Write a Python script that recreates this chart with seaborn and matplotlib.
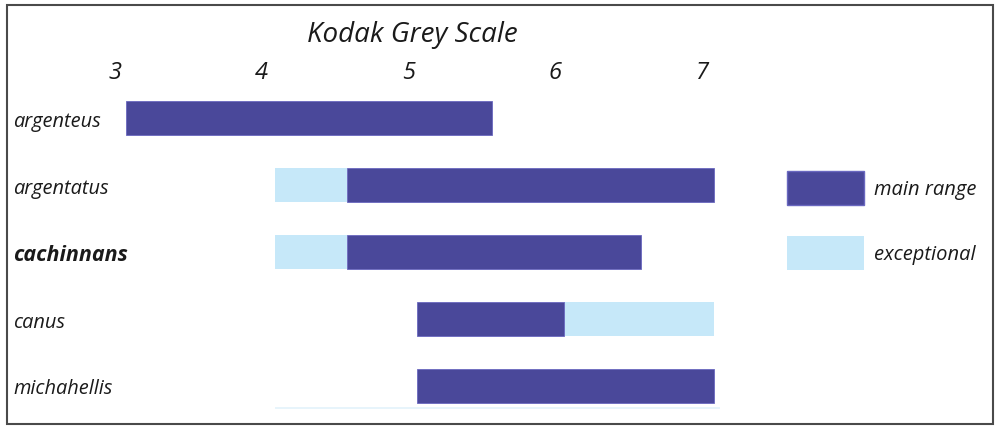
import numpy as np
import pandas as pd
import matplotlib
matplotlib.use("Agg")
import matplotlib.pyplot as plt
import seaborn as sns
from matplotlib.patches import Patch, Rectangle

# =========================
# Data
# =========================
species = ["argenteus", "argentatus", "cachinnans", "canus", "michahellis"]
main_start = [3.08, 4.58, 4.58, 5.06, 5.06]
main_end = [5.57, 7.08, 6.58, 6.06, 7.08]

exc_species = ["argentatus", "cachinnans", "canus"]
exc_start = [4.09, 4.09, 6.06]
exc_end = [4.58, 4.58, 7.08]

scale_ticks = [3, 4, 5, 6, 7]

dark = "#4a489a"
light = "#c6e8f9"
ink = "#1a1a1a"

main_df = pd.DataFrame({"species": species, "start": main_start, "end": main_end})
exc_df = pd.DataFrame({"species": exc_species, "start": exc_start, "end": exc_end})

# =========================
# Plot
# =========================
sns.set_theme(style="white")
plt.rcParams["font.family"] = ["Open Sans", "DejaVu Sans"]
plt.rcParams["text.color"] = ink
plt.rcParams["xtick.color"] = ink
plt.rcParams["ytick.color"] = ink

fig = plt.figure(figsize=(10, 4.31), dpi=100)
ax = fig.add_axes([0.041, 0.051, 0.735, 0.765])

ypos = {s: i for i, s in enumerate(species)}

ax.barh([ypos[s] for s in exc_df["species"]], exc_df["end"] - exc_df["start"],
        left=exc_df["start"], height=0.51, color=light, edgecolor="none")
ax.barh([ypos[s] for s in main_df["species"]], main_df["end"] - main_df["start"],
        left=main_df["start"], height=0.51, color=dark, edgecolor="#6a68c0",
        linewidth=0.6)

# faint base line under the bars
ax.hlines(4.33, 4.09, 7.12, color="#e3f2fb", linewidth=1.2, clip_on=False)

ax.set_xlim(2.5, 7.5)
ax.set_ylim(4.33, -0.6)

ax.xaxis.tick_top()
ax.set_xticks(scale_ticks)
ax.set_xticklabels([str(t) for t in scale_ticks], fontsize=17, style="italic")
ax.tick_params(axis="x", length=0, pad=-4)

ax.set_yticks(range(len(species)))
ax.set_yticklabels(species, fontsize=14.4, style="italic")
ax.tick_params(axis="y", length=0, pad=20)
for lbl in ax.get_yticklabels():
    lbl.set_ha("left")
    if lbl.get_text() == "cachinnans":
        lbl.set_fontweight("bold")
        lbl.set_fontsize(15.5)

sns.despine(ax=ax, left=True, bottom=True, top=True, right=True)
ax.grid(False)

fig.text(0.412, 1 - 35 / 431, "Kodak Grey Scale", ha="center", va="center",
         fontsize=20, style="italic")

handles = [Patch(facecolor=dark, edgecolor="#6a68c0", label="main range"),
           Patch(facecolor=light, edgecolor="none", label="exceptional")]
fig.legend(handles=handles, loc="upper left", bbox_to_anchor=(0.787, 1 - 172 / 431),
           frameon=False, borderpad=0, borderaxespad=0,
           handlelength=3.83, handleheight=2.225, handletextpad=0.5,
           labelspacing=1.54, prop={"style": "italic", "size": 14.5})

# border around the whole picture
fig.add_artist(Rectangle((0.007, 1 - 425 / 431), 0.986, (425 - 6) / 431,
                         transform=fig.transFigure, fill=False,
                         edgecolor="#4a4a4a", linewidth=1.5))

fig.savefig("out.png", dpi=100)
